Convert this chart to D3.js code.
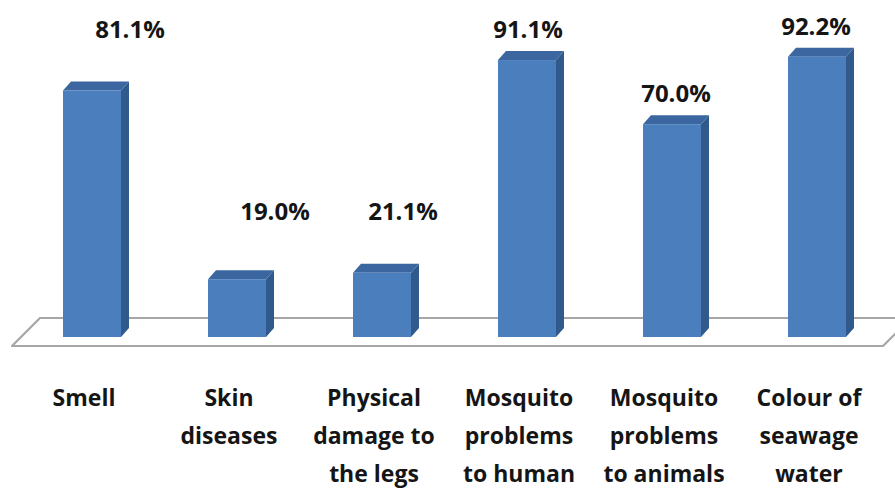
<!DOCTYPE html>
<html>
<head>
<meta charset="utf-8">
<script src="https://cdn.jsdelivr.net/npm/d3@7/dist/d3.min.js"></script>
<style>
  html, body { margin: 0; padding: 0; background: #ffffff; }
  svg { display: block; }
  text { font-family: "Open Sans", "Liberation Sans", sans-serif; font-weight: 700; fill: #151515; }
</style>
</head>
<body>
<svg id="chart" width="895" height="498"></svg>
<script>
// Problems reported, share of respondents (%)
const categories = [
  "Smell",
  "Skin diseases",
  "Physical damage to the legs",
  "Mosquito problems to human",
  "Mosquito problems to animals",
  "Colour of seawage water"
];
const categoryLines = [
  ["Smell"],
  ["Skin", "diseases"],
  ["Physical", "damage to", "the legs"],
  ["Mosquito", "problems", "to human"],
  ["Mosquito", "problems", "to animals"],
  ["Colour of", "seawage", "water"]
];
const values = [81.1, 19.0, 21.1, 91.1, 70.0, 92.2];
const valueLabels = ["81.1%", "19.0%", "21.1%", "91.1%", "70.0%", "92.2%"];

// Hand-placed data label offsets (px) relative to the default spot above each bar
const labelNudgeX = [34, 34, 17, -3, 0, -5];
const labelNudgeY = [-30, -37, -31, 0, 0, 0];

const W = 895, H = 498;
const svg = d3.select("#chart");

const x = d3.scaleBand()
  .domain(categories)
  .range([19.5, 889.5])
  .paddingInner(0.6)
  .paddingOuter(0.3);

const y = d3.scaleLinear().domain([0, 100]).range([337, 33]);

// 3-D depth offsets
const depthX = 8, depthY = -9;

// Floor plane
const floorFront = 346, floorBack = 318, floorLeft = 12, floorRight = 883, floorSlant = 28;
svg.append("path")
  .attr("d", d3.line()([
    [floorLeft, floorFront],
    [floorLeft + floorSlant, floorBack],
    [floorRight + floorSlant, floorBack],
    [floorRight, floorFront]
  ]) + "Z")
  .attr("fill", "#ffffff")
  .attr("stroke", "#a6a6a6")
  .attr("stroke-width", 2.2)
  .attr("stroke-linejoin", "round");

// Bars: front, side and top faces
const bars = svg.append("g").selectAll("g.bar")
  .data(categories.map((c, i) => ({ c, v: values[i], i })))
  .join("g").attr("class", "bar");

bars.append("path") // side
  .attr("d", d => {
    const x1 = x(d.c) + x.bandwidth(), y0 = y(0), y1 = y(d.v);
    return d3.line()([[x1, y0], [x1 + depthX, y0 + depthY], [x1 + depthX, y1 + depthY], [x1, y1]]) + "Z";
  })
  .attr("fill", "#30598c");

bars.append("path") // top
  .attr("d", d => {
    const x0 = x(d.c), x1 = x0 + x.bandwidth(), y1 = y(d.v);
    return d3.line()([[x0, y1], [x0 + depthX, y1 + depthY], [x1 + depthX, y1 + depthY], [x1, y1]]) + "Z";
  })
  .attr("fill", "#3b66a0");

bars.append("rect") // front
  .attr("x", d => x(d.c))
  .attr("y", d => y(d.v))
  .attr("width", x.bandwidth())
  .attr("height", d => y(0) - y(d.v))
  .attr("fill", "#4a7ebc");

// Value labels
svg.append("g").selectAll("text")
  .data(values)
  .join("text")
  .attr("x", (v, i) => x(categories[i]) + x.bandwidth() / 2 + depthX / 2 + labelNudgeX[i])
  .attr("y", (v, i) => y(v) - 22 + labelNudgeY[i])
  .attr("text-anchor", "middle")
  .attr("font-size", 24)
  .text((v, i) => valueLabels[i]);

// Category labels
const cat = svg.append("g").selectAll("text")
  .data(categories)
  .join("text")
  .attr("x", c => x(c) + x.bandwidth() / 2 - 8)
  .attr("y", 406)
  .attr("text-anchor", "middle")
  .attr("font-size", 23);
cat.selectAll("tspan")
  .data((c, i) => categoryLines[i].map((t, k) => ({ t, k, cx: x(c) + x.bandwidth() / 2 - 8 })))
  .join("tspan")
  .attr("x", d => d.cx)
  .attr("dy", d => d.k === 0 ? 0 : 38)
  .text(d => d.t);
</script>
</body>
</html>
